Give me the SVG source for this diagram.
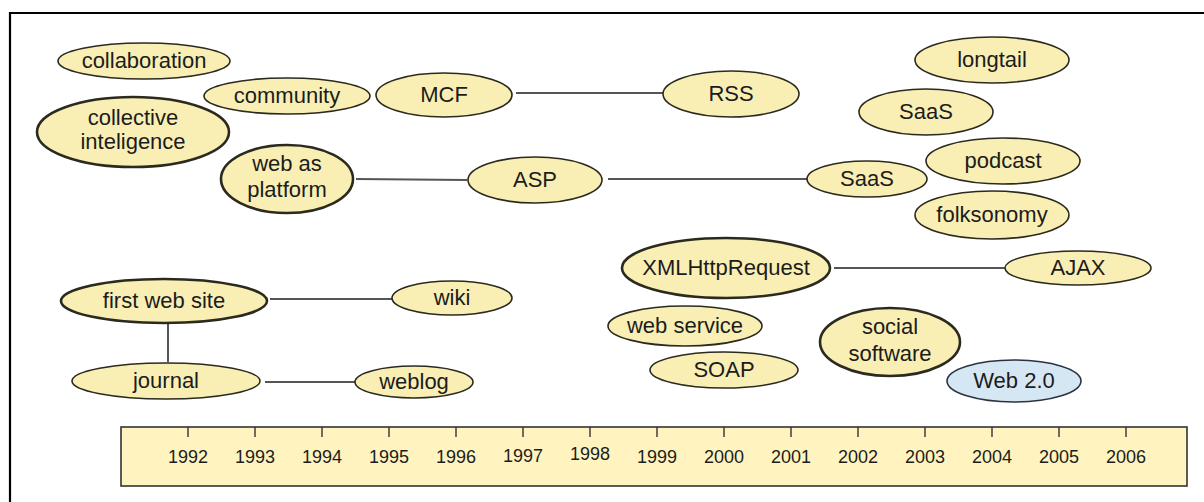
<svg xmlns="http://www.w3.org/2000/svg" width="1204" height="502" viewBox="0 0 1204 502">
<style>
.n ellipse{fill:#f9efb4;stroke:#2b2a1e;stroke-width:1.6}
.n.b ellipse{stroke-width:2.6}
.n.w ellipse{fill:#d6e7f4;stroke:#2b3240}
.n text,.yr{font-family:"Liberation Sans",Arial,sans-serif;fill:#1c1c1c;text-anchor:middle}
.n text{font-size:22px}
.yr{font-size:18px}
#connectors line{stroke:#555;stroke-width:2}
.tick{stroke:#333;stroke-width:1.4}
</style>
<rect width="1204" height="502" fill="#fff"/>
<g id="frame">
<line x1="9" y1="13" x2="1204" y2="13" stroke="#000" stroke-width="2.2"/>
<line x1="10" y1="12" x2="10" y2="502" stroke="#000" stroke-width="2.2"/>
</g>
<g id="connectors">
<line x1="516" y1="93" x2="663" y2="93"/>
<line x1="356" y1="179" x2="467" y2="180"/>
<line x1="608" y1="179" x2="808" y2="179"/>
<line x1="834" y1="268" x2="1005" y2="268"/>
<line x1="270" y1="299" x2="393" y2="299"/>
<line x1="168" y1="323" x2="168" y2="362"/>
<line x1="265" y1="382" x2="355" y2="382"/>
</g>
<g id="collaboration" class="n"><ellipse cx="144" cy="61" rx="86" ry="18"/><text x="144" y="68">collaboration</text></g>
<g id="community" class="n"><ellipse cx="287" cy="96" rx="83" ry="18"/><text x="287" y="103">community</text></g>
<g id="collective" class="n b"><ellipse cx="133" cy="132" rx="96" ry="35"/><text x="133" y="125">collective</text><text x="133" y="149">inteligence</text></g>
<g id="webplatform" class="n b"><ellipse cx="287" cy="179" rx="66" ry="34"/><text x="287" y="171">web as</text><text x="287" y="197">platform</text></g>
<g id="mcf" class="n"><ellipse cx="444" cy="95" rx="68" ry="22"/><text x="444" y="102">MCF</text></g>
<g id="rss" class="n"><ellipse cx="731" cy="94" rx="68" ry="23"/><text x="731" y="101">RSS</text></g>
<g id="asp" class="n"><ellipse cx="535" cy="180" rx="67" ry="23"/><text x="535" y="187">ASP</text></g>
<g id="longtail" class="n"><ellipse cx="992" cy="60" rx="77" ry="23"/><text x="992" y="67">longtail</text></g>
<g id="saas1" class="n"><ellipse cx="926" cy="112" rx="67" ry="23"/><text x="926" y="119">SaaS</text></g>
<g id="podcast" class="n"><ellipse cx="1003" cy="161" rx="77" ry="23"/><text x="1003" y="168">podcast</text></g>
<g id="saas2" class="n"><ellipse cx="867" cy="179" rx="60" ry="18"/><text x="867" y="186">SaaS</text></g>
<g id="folksonomy" class="n"><ellipse cx="992" cy="215" rx="77" ry="24"/><text x="992" y="222">folksonomy</text></g>
<g id="xmlhttp" class="n b"><ellipse cx="726" cy="268" rx="104" ry="30"/><text x="726" y="275">XMLHttpRequest</text></g>
<g id="ajax" class="n"><ellipse cx="1078" cy="268" rx="73" ry="17"/><text x="1078" y="275">AJAX</text></g>
<g id="firstweb" class="n b"><ellipse cx="164" cy="301" rx="103" ry="22"/><text x="164" y="308">first web site</text></g>
<g id="wiki" class="n"><ellipse cx="452" cy="298" rx="60" ry="17"/><text x="452" y="305">wiki</text></g>
<g id="journal" class="n"><ellipse cx="166" cy="381" rx="94" ry="18"/><text x="166" y="388">journal</text></g>
<g id="weblog" class="n"><ellipse cx="414" cy="382" rx="59" ry="16"/><text x="414" y="389">weblog</text></g>
<g id="webservice" class="n"><ellipse cx="685" cy="326" rx="77" ry="20"/><text x="685" y="333">web service</text></g>
<g id="soap" class="n"><ellipse cx="724" cy="370" rx="74" ry="18"/><text x="724" y="377">SOAP</text></g>
<g id="social" class="n b"><ellipse cx="890" cy="342" rx="70" ry="34"/><text x="890" y="334">social</text><text x="890" y="361">software</text></g>
<g id="web20" class="n w"><ellipse cx="1014" cy="381" rx="67" ry="21"/><text x="1014" y="388">Web 2.0</text></g>
<g id="timeline">
<rect x="121" y="427" width="1066" height="59" fill="#fff4bf" stroke="#333" stroke-width="1.6"/>
<g class="tick">
<line x1="188" y1="427" x2="188" y2="437"/><line x1="255" y1="427" x2="255" y2="437"/><line x1="322" y1="427" x2="322" y2="437"/><line x1="389" y1="427" x2="389" y2="437"/><line x1="456" y1="427" x2="456" y2="437"/><line x1="523" y1="427" x2="523" y2="437"/><line x1="590" y1="427" x2="590" y2="437"/><line x1="657" y1="427" x2="657" y2="437"/><line x1="724" y1="427" x2="724" y2="437"/><line x1="791" y1="427" x2="791" y2="437"/><line x1="858" y1="427" x2="858" y2="437"/><line x1="925" y1="427" x2="925" y2="437"/><line x1="992" y1="427" x2="992" y2="437"/><line x1="1059" y1="427" x2="1059" y2="437"/><line x1="1126" y1="427" x2="1126" y2="437"/>
</g>
<text class="yr" x="188" y="463">1992</text><text class="yr" x="255" y="463">1993</text><text class="yr" x="322" y="463">1994</text><text class="yr" x="389" y="463">1995</text><text class="yr" x="456" y="463">1996</text><text class="yr" x="523" y="462">1997</text><text class="yr" x="590" y="460">1998</text><text class="yr" x="657" y="463">1999</text><text class="yr" x="724" y="463">2000</text><text class="yr" x="791" y="463">2001</text><text class="yr" x="858" y="463">2002</text><text class="yr" x="925" y="463">2003</text><text class="yr" x="992" y="463">2004</text><text class="yr" x="1059" y="463">2005</text><text class="yr" x="1126" y="463">2006</text>
</g>
</svg>
